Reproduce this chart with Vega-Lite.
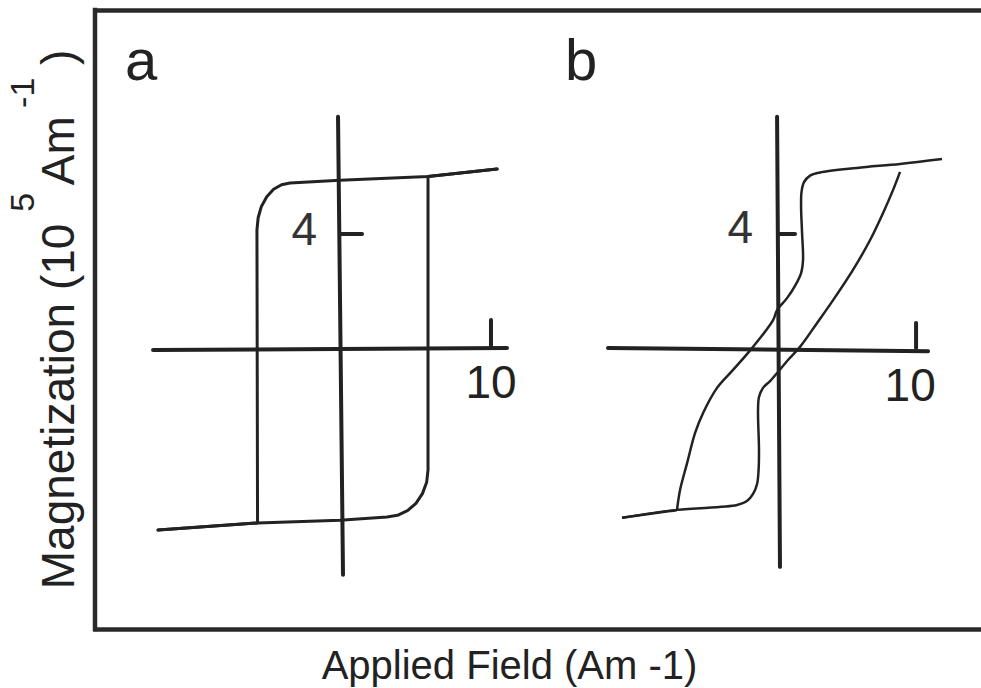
{
  "$schema": "https://vega.github.io/schema/vega-lite/v6.json",
  "width": 892,
  "height": 619,
  "autosize": {"type": "none"},
  "padding": {"left": 95, "top": 10, "right": -6, "bottom": 59},
  "background": "white",
  "config": {"view": {"stroke": null}, "font": "Liberation Sans"},
  "title": {
    "text": "\u200b\u00a0\u00a0\u00a0\u00a0\u00a0\u00a0\u00a0\u00a0\u00a0\u00a0\u00a0\u00a0\u00a0\u00a0\u00a0\u00a0\u00a0\u00a0\u00a0\u00a0\u00a0\u00a0\u00a0\u00a0\u00a0\u00a0\u00a0\u00a0\u00a0\u00a0\u00a0\u00a0\u00a0\u00a0\u00a0\u00a0\u00a0\u00a0\u00a0\u00a05\u00a0\u00a0\u00a0\u00a0\u00a0\u00a0\u00a0\u00a0\u00a0-1\u00a0\u00a0\u00a0\u200b",
    "subtitle": "Magnetization (10\u00a0\u00a0\u00a0Am\u00a0\u00a0\u00a0\u00a0)",
    "orient": "left",
    "anchor": "middle",
    "font": "Liberation Sans",
    "fontSize": 34,
    "fontWeight": "normal",
    "color": "#222",
    "subtitleFont": "Liberation Sans",
    "subtitleFontSize": 46,
    "subtitleFontWeight": "normal",
    "subtitleColor": "#222",
    "subtitlePadding": -3,
    "offset": 9
  },
  "layer": [
    {
      "encoding": {
        "x": {
          "field": "H",
          "type": "quantitative",
          "scale": {"domain": [-16.225, 42.85], "nice": false, "zero": false},
          "axis": {
            "orient": "bottom",
            "domain": true,
            "domainColor": "#2a2a2a",
            "domainWidth": 4.5,
            "domainCap": "square",
            "ticks": false,
            "labels": false,
            "grid": false,
            "title": "Applied Field (Am -1)",
            "titleFont": "Liberation Sans",
            "titleFontSize": 40,
            "titleFontWeight": "normal",
            "titleColor": "#222",
            "titleAlign": "center",
            "titleBaseline": "alphabetic",
            "titleX": 414,
            "titleY": 49
          }
        },
        "y": {
          "field": "M",
          "type": "quantitative",
          "scale": {"domain": [-9.86, 11.86], "nice": false, "zero": false},
          "axis": null
        }
      },
      "layer": [
        {
          "data": {"values": [
            {"part": "frame, left side", "H": -16.225, "M": 11.86, "H2": -16.225, "M2": -9.86}
          ]},
          "mark": {"type": "rule", "color": "#2a2a2a", "strokeWidth": 4.5, "strokeCap": "square"},
          "encoding": {"x2": {"field": "H2"}, "y2": {"field": "M2"}}
        },
        {
          "data": {"values": [
            {"part": "field axis", "H": -12.38, "M": -0.07, "H2": 11.06, "M2": 0.0},
            {"part": "magnetization axis", "H": -0.13, "M": 8.11, "H2": 0.2, "M2": -7.96},
            {"part": "tick 10", "H": 10, "M": 0, "H2": 10, "M2": 0.98},
            {"part": "tick 4", "H": 0, "M": 4, "H2": 1.46, "M2": 4}
          ]},
          "mark": {"type": "rule", "color": "#222", "strokeWidth": 4, "strokeCap": "round"},
          "encoding": {"x2": {"field": "H2"}, "y2": {"field": "M2"}}
        },
        {
          "data": {"values": [
            {"branch": "descending", "i": 0, "H": 10.4, "M": 6.28},
            {"branch": "descending", "i": 1, "H": 5.83, "M": 6.02},
            {"branch": "descending", "i": 2, "H": 0, "M": 5.89},
            {"branch": "descending", "i": 3, "H": -3.31, "M": 5.79},
            {"branch": "descending", "i": 4, "H": -3.87, "M": 5.73},
            {"branch": "descending", "i": 5, "H": -4.4, "M": 5.57},
            {"branch": "descending", "i": 6, "H": -4.85, "M": 5.31},
            {"branch": "descending", "i": 7, "H": -5.21, "M": 4.96},
            {"branch": "descending", "i": 8, "H": -5.42, "M": 4.57},
            {"branch": "descending", "i": 9, "H": -5.5, "M": 4.14},
            {"branch": "descending", "i": 10, "H": -5.46, "M": -6.14},
            {"branch": "descending", "i": 11, "H": -12.05, "M": -6.39},
            {"branch": "ascending", "i": 0, "H": -12.05, "M": -6.39},
            {"branch": "ascending", "i": 1, "H": -5.46, "M": -6.14},
            {"branch": "ascending", "i": 2, "H": 0, "M": -6.04},
            {"branch": "ascending", "i": 3, "H": 3.11, "M": -5.93},
            {"branch": "ascending", "i": 4, "H": 3.81, "M": -5.87},
            {"branch": "ascending", "i": 5, "H": 4.47, "M": -5.71},
            {"branch": "ascending", "i": 6, "H": 5.03, "M": -5.45},
            {"branch": "ascending", "i": 7, "H": 5.46, "M": -5.11},
            {"branch": "ascending", "i": 8, "H": 5.74, "M": -4.71},
            {"branch": "ascending", "i": 9, "H": 5.83, "M": -4.28},
            {"branch": "ascending", "i": 10, "H": 5.83, "M": 6.02},
            {"branch": "ascending", "i": 11, "H": 10.4, "M": 6.28}
          ]},
          "mark": {"type": "line", "color": "#222", "strokeWidth": 3, "interpolate": "linear", "strokeCap": "round", "strokeJoin": "round"},
          "encoding": {"detail": {"field": "branch"}, "order": {"field": "i", "type": "quantitative"}}
        },
        {
          "data": {"values": [{"label": "a", "H": -14.24, "M": 9.4}]},
          "mark": {"type": "text", "font": "Liberation Sans", "fontSize": 58, "align": "left", "baseline": "alphabetic", "color": "#222"},
          "encoding": {"text": {"field": "label"}}
        },
        {
          "data": {"values": [{"label": "10", "H": 10, "M": -0.48}]},
          "mark": {"type": "text", "font": "Liberation Sans", "fontSize": 46, "align": "center", "baseline": "top", "color": "#222"},
          "encoding": {"text": {"field": "label"}}
        },
        {
          "data": {"values": [{"label": "4", "H": -1.52, "M": 4.09}]},
          "mark": {"type": "text", "font": "Liberation Sans", "fontSize": 46, "align": "right", "baseline": "middle", "color": "#333"},
          "encoding": {"text": {"field": "label"}}
        }
      ]
    },
    {
      "encoding": {
        "x": {
          "field": "H",
          "type": "quantitative",
          "scale": {"domain": [-49.49, 15.14], "nice": false, "zero": false},
          "axis": {
            "orient": "top",
            "domain": true,
            "domainColor": "#2a2a2a",
            "domainWidth": 4.5,
            "domainCap": "square",
            "ticks": false,
            "labels": false,
            "grid": false,
            "title": null
          }
        },
        "y": {
          "field": "M",
          "type": "quantitative",
          "scale": {"domain": [-9.86, 11.86], "nice": false, "zero": false},
          "axis": null
        }
      },
      "layer": [
        {
          "data": {"values": [
            {"part": "field axis", "H": -12.32, "M": 0, "H2": 10.87, "M2": -0.11},
            {"part": "magnetization axis", "H": -0.07, "M": 8.11, "H2": 0.14, "M2": -7.68},
            {"part": "tick 10", "H": 10, "M": 0, "H2": 10, "M2": 0.88},
            {"part": "tick 4", "H": 0, "M": 4, "H2": 1.23, "M2": 4}
          ]},
          "mark": {"type": "rule", "color": "#222", "strokeWidth": 4, "strokeCap": "round"},
          "encoding": {"x2": {"field": "H2"}, "y2": {"field": "M2"}}
        },
        {
          "data": {"values": [
            {"branch": "descending", "i": 0, "H": 11.88, "M": 6.63},
            {"branch": "descending", "i": 1, "H": 8.84, "M": 6.46},
            {"branch": "descending", "i": 2, "H": 5.72, "M": 6.32},
            {"branch": "descending", "i": 3, "H": 3.04, "M": 6.16},
            {"branch": "descending", "i": 4, "H": 2.32, "M": 6.05},
            {"branch": "descending", "i": 5, "H": 1.88, "M": 5.82},
            {"branch": "descending", "i": 6, "H": 1.7, "M": 5.47},
            {"branch": "descending", "i": 7, "H": 1.67, "M": 4.95},
            {"branch": "descending", "i": 8, "H": 1.74, "M": 4.04},
            {"branch": "descending", "i": 9, "H": 1.81, "M": 3.09},
            {"branch": "descending", "i": 10, "H": 1.67, "M": 2.63},
            {"branch": "descending", "i": 11, "H": 1.23, "M": 2.18},
            {"branch": "descending", "i": 12, "H": 0.65, "M": 1.75},
            {"branch": "descending", "i": 13, "H": -0.07, "M": 1.33},
            {"branch": "descending", "i": 14, "H": -0.36, "M": 0.98},
            {"branch": "descending", "i": 15, "H": -1.81, "M": 0.04},
            {"branch": "descending", "i": 16, "H": -3.26, "M": -0.77},
            {"branch": "descending", "i": 17, "H": -4.42, "M": -1.4},
            {"branch": "descending", "i": 18, "H": -5.43, "M": -2.28},
            {"branch": "descending", "i": 19, "H": -6.01, "M": -2.98},
            {"branch": "descending", "i": 20, "H": -6.59, "M": -4.04},
            {"branch": "descending", "i": 21, "H": -7.1, "M": -4.98},
            {"branch": "descending", "i": 22, "H": -7.3, "M": -5.6},
            {"branch": "descending", "i": 23, "H": -7.32, "M": -5.68},
            {"branch": "descending", "i": 24, "H": -7.83, "M": -5.72},
            {"branch": "descending", "i": 25, "H": -11.3, "M": -5.96},
            {"branch": "ascending", "i": 0, "H": -11.3, "M": -5.96},
            {"branch": "ascending", "i": 1, "H": -7.32, "M": -5.68},
            {"branch": "ascending", "i": 2, "H": -2.97, "M": -5.51},
            {"branch": "ascending", "i": 3, "H": -2.25, "M": -5.37},
            {"branch": "ascending", "i": 4, "H": -1.81, "M": -5.12},
            {"branch": "ascending", "i": 5, "H": -1.52, "M": -4.77},
            {"branch": "ascending", "i": 6, "H": -1.41, "M": -4.28},
            {"branch": "ascending", "i": 7, "H": -1.38, "M": -3.58},
            {"branch": "ascending", "i": 8, "H": -1.45, "M": -2.18},
            {"branch": "ascending", "i": 9, "H": -1.38, "M": -1.72},
            {"branch": "ascending", "i": 10, "H": -1.09, "M": -1.4},
            {"branch": "ascending", "i": 11, "H": -0.58, "M": -1.16},
            {"branch": "ascending", "i": 12, "H": 0, "M": -0.84},
            {"branch": "ascending", "i": 13, "H": 0.72, "M": -0.42},
            {"branch": "ascending", "i": 14, "H": 1.59, "M": 0.04},
            {"branch": "ascending", "i": 15, "H": 2.83, "M": 0.88},
            {"branch": "ascending", "i": 16, "H": 3.99, "M": 1.68},
            {"branch": "ascending", "i": 17, "H": 5.43, "M": 2.74},
            {"branch": "ascending", "i": 18, "H": 6.67, "M": 3.79},
            {"branch": "ascending", "i": 19, "H": 7.61, "M": 4.74},
            {"branch": "ascending", "i": 20, "H": 8.33, "M": 5.54},
            {"branch": "ascending", "i": 21, "H": 8.84, "M": 6.18}
          ]},
          "mark": {"type": "line", "color": "#222", "strokeWidth": 2.5, "interpolate": "catmull-rom"},
          "encoding": {"detail": {"field": "branch"}, "order": {"field": "i", "type": "quantitative"}}
        },
        {
          "data": {"values": [{"label": "b", "H": -15.43, "M": 9.4}]},
          "mark": {"type": "text", "font": "Liberation Sans", "fontSize": 58, "align": "left", "baseline": "alphabetic", "color": "#222"},
          "encoding": {"text": {"field": "label"}}
        },
        {
          "data": {"values": [{"label": "10", "H": 9.57, "M": -0.58}]},
          "mark": {"type": "text", "font": "Liberation Sans", "fontSize": 46, "align": "center", "baseline": "top", "color": "#222"},
          "encoding": {"text": {"field": "label"}}
        },
        {
          "data": {"values": [{"label": "4", "H": -1.81, "M": 4.17}]},
          "mark": {"type": "text", "font": "Liberation Sans", "fontSize": 46, "align": "right", "baseline": "middle", "color": "#333"},
          "encoding": {"text": {"field": "label"}}
        }
      ]
    }
  ],
  "resolve": {"scale": {"x": "independent"}, "axis": {"x": "independent"}}
}
